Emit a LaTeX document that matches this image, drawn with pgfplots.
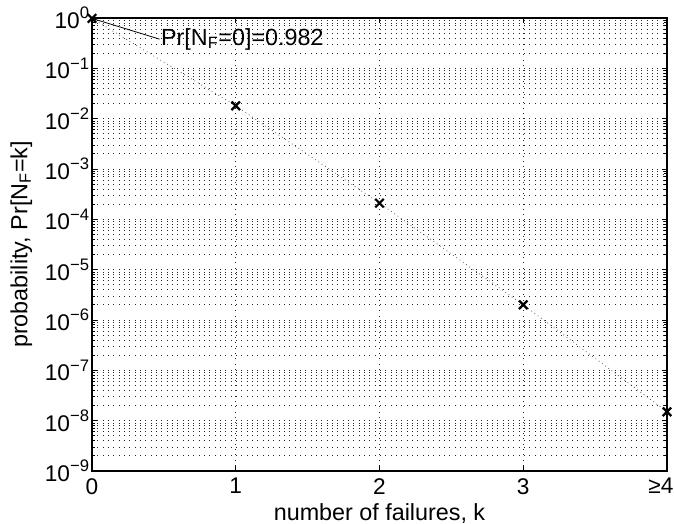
\documentclass[border=0pt]{standalone}
\usepackage{pgfplots}
\pgfplotsset{compat=1.18}
\usepackage{fontspec}
\setmainfont{Liberation Sans}
\begin{document}
\begin{tikzpicture}
\begin{axis}[
  name=ax,
  scale only axis,
  width=431.25pt, height=339.75pt,
  ymode=log, log basis y=10,
  xmin=0, xmax=4, ymin=1e-9, ymax=1,
  xtick={0,1,2,3,4},
  xticklabels={0,1,2,3,\hspace*{-9pt}≥4},
  ytick={1e-9,1e-8,1e-7,1e-6,1e-5,1e-4,1e-3,1e-2,1e-1,1},
  minor ytick={
    2e-9,3e-9,4e-9,5e-9,6e-9,7e-9,8e-9,9e-9,
    2e-8,3e-8,4e-8,5e-8,6e-8,7e-8,8e-8,9e-8,
    2e-7,3e-7,4e-7,5e-7,6e-7,7e-7,8e-7,9e-7,
    2e-6,3e-6,4e-6,5e-6,6e-6,7e-6,8e-6,9e-6,
    2e-5,3e-5,4e-5,5e-5,6e-5,7e-5,8e-5,9e-5,
    2e-4,3e-4,4e-4,5e-4,6e-4,7e-4,8e-4,9e-4,
    2e-3,3e-3,4e-3,5e-3,6e-3,7e-3,8e-3,9e-3,
    2e-2,3e-2,4e-2,5e-2,6e-2,7e-2,8e-2,9e-2,
    2e-1,3e-1,4e-1,5e-1,6e-1,7e-1,8e-1,9e-1},
  yticklabel={\pgfmathtruncatemacro\e{round(\tick)}10\raisebox{0.42em}{\fontsize{12.5}{13}\selectfont\ifnum\e<0 −\the\numexpr-\e\relax\else\e\fi}},
  /pgf/number format/assume math mode=true,
  tick label style={font=\fontsize{17}{19}\selectfont},
  yticklabel style={inner sep=2pt},
  label style={font=\fontsize{17.5}{20}\selectfont},
  xticklabel shift=2pt,
  ylabel shift=4pt,
  xlabel={number of failures, k},
  ylabel={probability, Pr[N\textsubscript{F}=k]},
  xmajorgrids, ymajorgrids, yminorgrids,
  major grid style={black!85, line width=0.55pt, dash pattern=on 0.6pt off 3.4pt},
  minor grid style={black!85, line width=0.55pt, dash pattern=on 0.6pt off 3.4pt},
  axis line style={line width=0.9pt},
  tick style={black, line width=0.6pt},
  major tick length=4pt, minor tick length=2pt,
  tick align=inside,
  xtick pos=both, ytick pos=both,
  clip=false,
]
\addplot[black!70, line width=0.55pt, dash pattern=on 0.6pt off 2.4pt] coordinates {
  (0,0.982) (1,0.018) (2,2.1e-4) (3,2.0e-6) (4,1.5e-8)
};
\addplot[only marks, mark=x, mark size=4.5pt, mark options={line width=1.7pt, black}] coordinates {
  (0,0.982) (1,0.018) (2,2.1e-4) (3,2.0e-6) (4,1.5e-8)
};
\draw[black, line width=0.6pt] (axis cs:0,0.982) -- (axis cs:0.47,0.38);
\node[anchor=west, inner sep=1pt, font=\fontsize{17.5}{20}\selectfont] at (axis cs:0.47,0.38) {Pr[N\textsubscript{F}=0]=0.982};
\end{axis}
\pgfresetboundingbox
\path ([shift={(-69pt,-39.75pt)}]ax.south west) rectangle ([shift={(5.25pt,13.5pt)}]ax.north east);
\end{tikzpicture}
\end{document}
